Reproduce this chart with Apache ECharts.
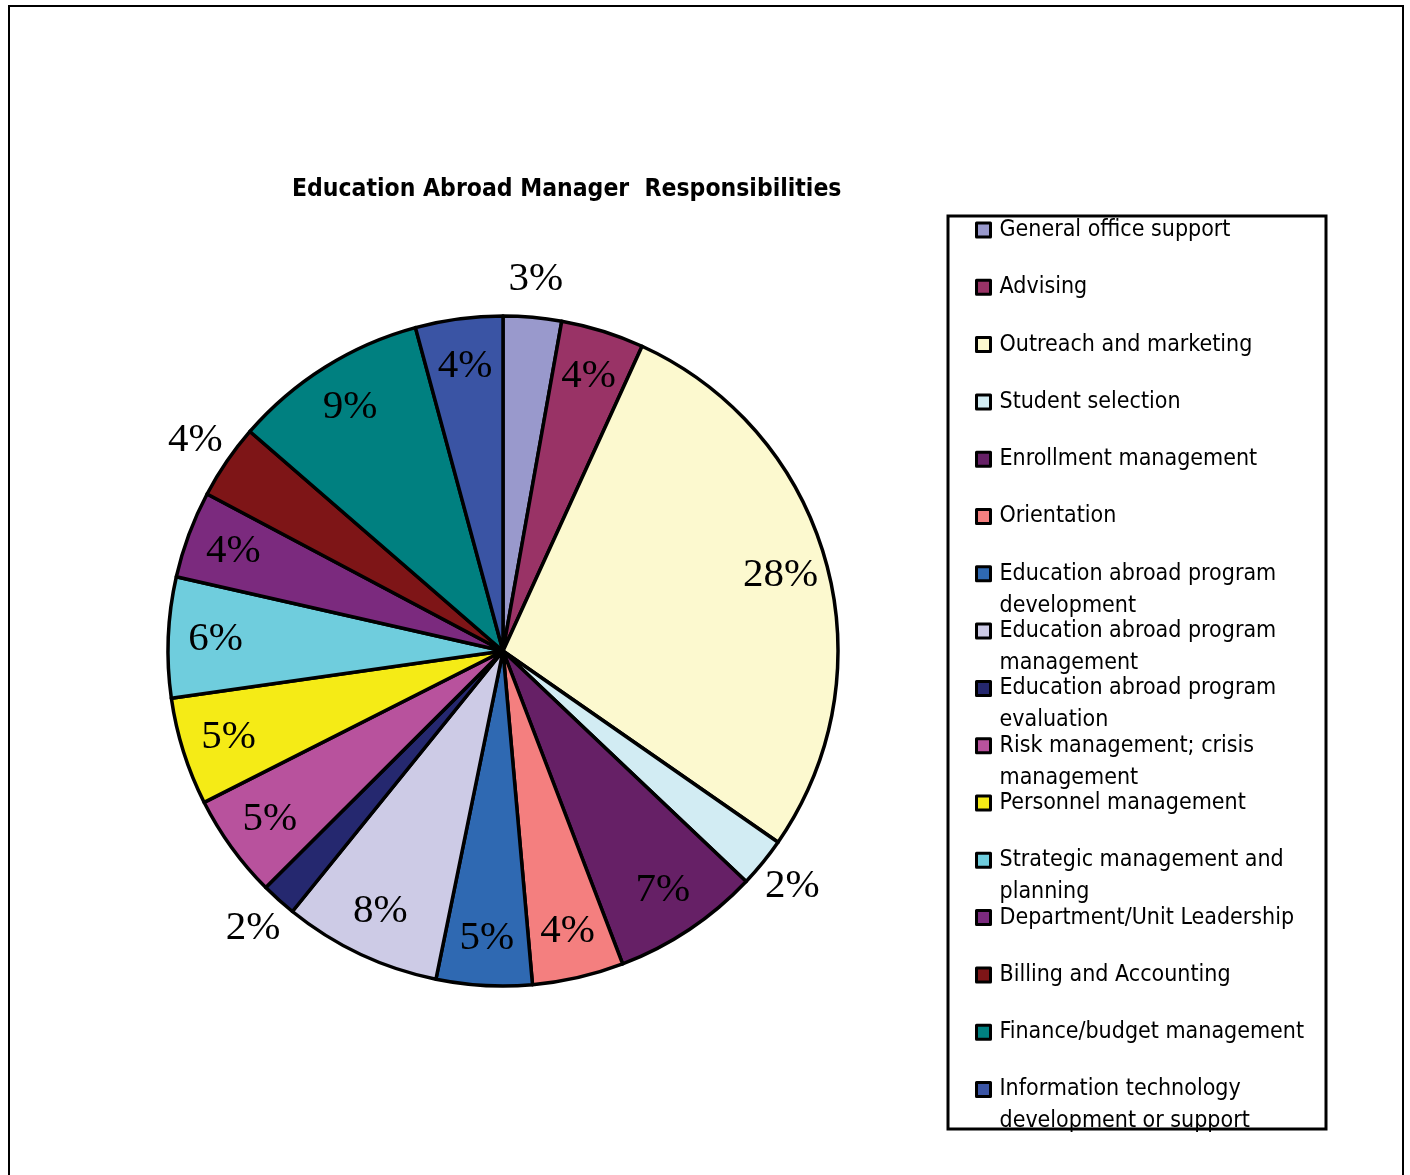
<!DOCTYPE html>
<html>
<head>
<meta charset="utf-8">
<script src="https://cdn.jsdelivr.net/npm/echarts@6/dist/echarts.min.js"></script>
<style>
html, body { margin: 0; padding: 0; background: #fff; }
#chart { width: 1410px; height: 1175px; }
</style>
</head>
<body>
<div id="chart"></div>
<script>
// responsibilities, clockwise from 12 o'clock
var names = [
    'General office support', 'Advising', 'Outreach and marketing', 'Student selection',
    'Enrollment management', 'Orientation', 'Education abroad program development',
    'Education abroad program management', 'Education abroad program evaluation',
    'Risk management; crisis management', 'Personnel management',
    'Strategic management and planning', 'Department/Unit Leadership',
    'Billing and Accounting', 'Finance/budget management',
    'Information technology development or support'
];
// legend text with the reference's line breaks
var legendLines = [
    ['General office support'], ['Advising'], ['Outreach and marketing'], ['Student selection'],
    ['Enrollment management'], ['Orientation'], ['Education abroad program', 'development'],
    ['Education abroad program', 'management'], ['Education abroad program', 'evaluation'],
    ['Risk management; crisis', 'management'], ['Personnel management'],
    ['Strategic management and', 'planning'], ['Department/Unit Leadership'],
    ['Billing and Accounting'], ['Finance/budget management'],
    ['Information technology', 'development or support']
];
var shares = [2.8, 4.0, 27.8, 2.4, 7.1, 4.4, 4.6, 7.6, 1.7, 5.0, 5.2, 5.8, 4.2, 3.6, 9.4, 4.2];
var colors = ['#9999cc', '#993366', '#fcf9cf', '#d2ecf3', '#662066', '#f47f7f', '#2f69b2',
    '#cdcbe6', '#25286f', '#b8529d', '#f5eb16', '#6fcddd', '#7b2a7e', '#7e1517', '#008080', '#3a54a4'];
// which slices carry their label outside the pie
var outside = [true, false, false, true, false, false, false, false, true,
    false, false, false, false, true, false, false];

var chart = echarts.init(document.getElementById('chart'));

var cx = 503, cy = 651, R = 335;
var sansNarrow = "'DejaVu Sans Condensed', 'Liberation Sans', sans-serif";

var pieData = names.map(function (n, i) {
    return { name: n, value: shares[i], itemStyle: { color: colors[i] } };
});
function labelData(wantOutside) {
    return names.map(function (n, i) {
        return {
            name: n, value: shares[i],
            label: { show: outside[i] === wantOutside }
        };
    });
}
var labelStyle = {
    position: 'inside',
    formatter: function (p) { return Math.round(p.percent) + '%'; },
    fontFamily: "'Liberation Serif', 'Times New Roman', serif",
    fontSize: 41,
    color: '#000'
};
var ghost = { color: 'rgba(0,0,0,0)', borderWidth: 0 };

chart.setOption({
    animation: false,
    title: {
        text: 'Education Abroad Manager  Responsibilities',
        left: 292,
        top: 177,
        padding: 0,
        textStyle: {
            fontFamily: sansNarrow,
            fontSize: 24.5,
            fontWeight: 'bold',
            color: '#000'
        }
    },
    legend: {
        orient: 'vertical',
        left: 975,
        top: 182,
        padding: 0,
        itemGap: -38.7,
        itemWidth: 14,
        itemHeight: 14,
        icon: 'rect',
        selectedMode: false,
        data: names,
        itemStyle: { borderColor: '#000', borderWidth: 3 },
        formatter: function (name) {
            var l = legendLines[names.indexOf(name)];
            return '\n' + l[0] + '\n' + (l[1] || '');
        },
        textStyle: {
            fontFamily: sansNarrow,
            fontSize: 23,
            lineHeight: 32,
            color: '#000',
            padding: [0, 0, 0, 4]
        }
    },
    graphic: [
        {
            type: 'rect', z: 100, silent: true,
            shape: { x: 9, y: 6, width: 1394, height: 1250 },
            style: { fill: 'none', stroke: '#000', lineWidth: 2 }
        },
        {
            type: 'rect', z: 100, silent: true,
            shape: { x: 948, y: 216, width: 378, height: 913 },
            style: { fill: 'none', stroke: '#000', lineWidth: 3 }
        }
    ],
    series: [
        {
            type: 'pie',
            center: [cx, cy],
            radius: [0, R],
            startAngle: 90,
            clockwise: true,
            label: { show: false },
            labelLine: { show: false },
            itemStyle: { borderColor: '#000', borderWidth: 3.5 },
            emphasis: { disabled: true },
            data: pieData
        },
        {
            type: 'pie',
            center: [cx, cy],
            radius: [R * 0.7, R],
            startAngle: 90,
            silent: true,
            itemStyle: ghost,
            label: labelStyle,
            labelLine: { show: false },
            emphasis: { disabled: true },
            data: labelData(false)
        },
        {
            type: 'pie',
            center: [cx, cy],
            radius: [R, R * 1.21],
            startAngle: 90,
            silent: true,
            itemStyle: ghost,
            label: labelStyle,
            labelLine: { show: false },
            emphasis: { disabled: true },
            data: labelData(true)
        }
    ]
});
</script>
</body>
</html>
